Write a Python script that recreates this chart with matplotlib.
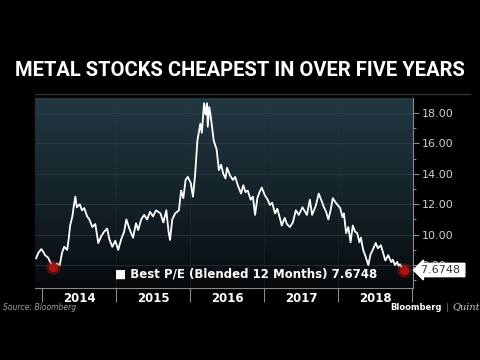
import matplotlib
matplotlib.use('Agg')
import matplotlib.pyplot as plt
import matplotlib.transforms as mtransforms
import numpy as np

# Best P/E (blended 12 months), x in decimal years
dates = [2013.92, 2013.95, 2013.99, 2014.02, 2014.04, 2014.08, 2014.11, 2014.15,
         2014.18, 2014.20, 2014.24, 2014.27, 2014.30, 2014.34, 2014.36, 2014.38,
         2014.41, 2014.43, 2014.45, 2014.47, 2014.51, 2014.54, 2014.57, 2014.61,
         2014.64, 2014.68, 2014.72, 2014.76, 2014.80, 2014.84, 2014.88, 2014.91,
         2014.95, 2014.99, 2015.03, 2015.07, 2015.11, 2015.14, 2015.18, 2015.23,
         2015.27, 2015.30, 2015.34, 2015.38, 2015.42, 2015.46, 2015.50, 2015.54,
         2015.60, 2015.64, 2015.68, 2015.71, 2015.73, 2015.76, 2015.80, 2015.85,
         2015.88, 2015.91, 2015.94, 2015.97, 2016.01, 2016.04, 2016.07, 2016.10,
         2016.14, 2016.16, 2016.19, 2016.21, 2016.23, 2016.24, 2016.26, 2016.28,
         2016.32, 2016.36, 2016.39, 2016.42, 2016.45, 2016.48, 2016.50, 2016.54,
         2016.58, 2016.61, 2016.65, 2016.69, 2016.72, 2016.75, 2016.78, 2016.82,
         2016.85, 2016.88, 2016.91, 2016.94, 2016.97, 2017.01, 2017.05, 2017.08,
         2017.11, 2017.15, 2017.18, 2017.22, 2017.24, 2017.28, 2017.31, 2017.35,
         2017.39, 2017.43, 2017.47, 2017.52, 2017.58, 2017.62, 2017.65, 2017.70,
         2017.74, 2017.78, 2017.81, 2017.84, 2017.87, 2017.90, 2017.93, 2017.97,
         2018.03, 2018.06, 2018.08, 2018.11, 2018.14, 2018.17, 2018.20, 2018.23,
         2018.26, 2018.29, 2018.31, 2018.34, 2018.37, 2018.41, 2018.44, 2018.47,
         2018.51, 2018.54, 2018.58, 2018.61, 2018.64, 2018.68, 2018.70, 2018.72,
         2018.74, 2018.77, 2018.80, 2018.82, 2018.84, 2018.86, 2018.88, 2018.89]
values = [8.45, 8.80, 9.05, 8.85, 8.65, 8.50, 8.20, 7.95,
          7.87, 8.10, 8.00, 8.80, 9.20, 9.00, 9.70, 10.60,
          11.20, 11.90, 12.50, 11.80, 12.00, 11.60, 11.75, 11.20,
          11.00, 10.50, 10.70, 9.45, 9.90, 10.20, 10.40, 9.70,
          9.20, 9.60, 9.00, 9.70, 10.20, 11.00, 10.40, 9.80,
          10.75, 10.30, 11.00, 11.30, 11.00, 11.50, 11.20, 11.60,
          11.40, 10.80, 11.60, 10.20, 9.65, 11.00, 11.40, 11.60,
          12.90, 12.40, 13.60, 13.80, 13.40, 12.50, 14.00, 16.20,
          17.30, 16.70, 18.65, 17.90, 18.65, 17.10, 18.40, 17.80,
          16.20, 15.60, 14.25, 14.60, 14.00, 13.70, 14.40, 13.90,
          13.60, 13.80, 13.20, 12.70, 13.25, 12.80, 12.90, 12.30,
          12.50, 11.30, 12.40, 12.80, 13.10, 12.60, 12.30, 11.95,
          12.10, 11.40, 11.70, 11.00, 10.60, 11.10, 10.70, 10.50,
          10.80, 11.60, 11.30, 11.80, 11.30, 12.30, 11.30, 11.90,
          12.70, 12.20, 11.80, 11.50, 11.00, 11.60, 12.40, 12.10,
          11.75, 11.15, 11.40, 10.10, 10.50, 9.50, 10.60, 10.20,
          10.10, 9.50, 9.80, 9.00, 8.60, 8.00, 8.70, 9.00,
          9.45, 9.10, 9.30, 8.80, 8.30, 8.65, 8.40, 8.20,
          8.35, 8.00, 8.20, 7.95, 8.05, 7.85, 7.75, 7.6748]

low_date, low_value = 2014.15, 7.87
last_value = 7.6748
years = [2014, 2015, 2016, 2017, 2018]
yticks = [8, 10, 12, 14, 16, 18]

fig = plt.figure(figsize=(4.8, 3.6), dpi=100, facecolor='black')
ax = fig.add_axes([35 / 480, 72 / 360, 378 / 480, 190 / 360])
ax.set_facecolor('black')
ax.set_xlim(2013.905, 2019.014)
ax.set_ylim(6.49, 18.99)

# gradient background (teal at top, fading to black)
grad = np.linspace(0, 1, 256).reshape(-1, 1, 1)
top = np.array([0.13, 0.22, 0.26])
bot = np.array([0.02, 0.03, 0.04])
img = top * (1 - grad) ** 0.8 + bot * (1 - (1 - grad) ** 0.8)
ax.imshow(img, extent=[2013.905, 2019.014, 6.49, 18.99], aspect='auto',
          origin='upper', zorder=0)

for v in yticks:
    ax.axhline(v, color='#3a4a52', lw=0.6, alpha=0.6, zorder=1)
for yr in years[1:]:
    ax.axvline(yr, color='#2c3a42', lw=0.6, ls=':', zorder=1)

ax.plot(dates, values, color='white', lw=1.3, zorder=3)

for x, y in [(low_date, low_value), (dates[-1], last_value)]:
    ax.scatter([x], [y], s=110, color='#c01818', alpha=0.35, lw=0, zorder=4)
    ax.scatter([x], [y], s=45, color='#a81414', lw=0, zorder=5)

# axes styling
for s in ['top', 'left']:
    ax.spines[s].set_visible(False)
ax.spines['bottom'].set_color('#8a8a8a')
ax.spines['right'].set_color('#8a8a8a')
ax.yaxis.tick_right()
ax.set_yticks(yticks)
ax.set_yticklabels([f'{v:.2f}' for v in yticks])
ax.set_yticks([7, 9, 11, 13, 15, 17], minor=True)
ax.tick_params(axis='y', which='major', colors='#8a8a8a', labelcolor='#d0d0d0',
               length=4, width=0.8, labelsize=8, pad=2)
ax.tick_params(axis='y', which='minor', colors='#8a8a8a', length=2.5, width=0.8)

ax.set_xticks(years + [2019])
ax.set_xticklabels([])
ax.set_xticks([y + 0.5 for y in years], minor=True)
ax.set_xticklabels([str(y) for y in years], minor=True)
ax.tick_params(axis='x', which='major', colors='#8a8a8a', length=10, width=0.8)
ax.tick_params(axis='x', which='minor', length=0, labelcolor='white',
               labelsize=8.5, pad=3)
for lab in ax.get_xticklabels(minor=True):
    lab.set_fontweight('bold')

# legend-like label
ax.text(0.212, 0.073, '\u25A0 Best P/E (Blended 12 Months) 7.6748',
        transform=ax.transAxes, color='white', fontsize=8.5, fontweight='bold',
        va='center', ha='left', zorder=6)

# last value box
trans = mtransforms.blended_transform_factory(ax.transAxes, ax.transData)
ax.text(1.02, last_value, '7.6748 ', transform=trans, color='#333333',
        fontsize=8, va='center', ha='left', zorder=7, clip_on=False,
        bbox=dict(boxstyle='larrow,pad=0.15', fc='white', ec='white'))

# separator line above the chart
fig.add_artist(plt.Line2D([35 / 480, 470 / 480], [266 / 360, 266 / 360],
                          color='#333333', lw=1))

# title
title = fig.text(0.5, 1 - 70 / 360, 'METAL STOCKS CHEAPEST IN OVER FIVE YEARS',
                 ha='center', va='center', color='white', fontsize=15,
                 fontweight='bold', family='Roboto')
fig.canvas.draw()
w = title.get_window_extent().width
title.set_fontsize(15 * 452 / w)

fig.text(3 / 480, 1 - 308 / 360, 'Source: Bloomberg', color='#a0a0a0',
         fontsize=5.5, style='italic', va='center', ha='left')
fig.text(442 / 480, 1 - 307 / 360, 'Bloomberg', color='white', fontsize=6,
         fontweight='bold', va='center', ha='right')
fig.text(447 / 480, 1 - 307 / 360, '|', color='#777777', fontsize=6.5,
         va='center', ha='center')
fig.text(452 / 480, 1 - 307 / 360, 'Quint', color='#cccccc', fontsize=7,
         style='italic', family='DejaVu Serif', va='center', ha='left')

fig.savefig('out.png', dpi=100, facecolor='black')
